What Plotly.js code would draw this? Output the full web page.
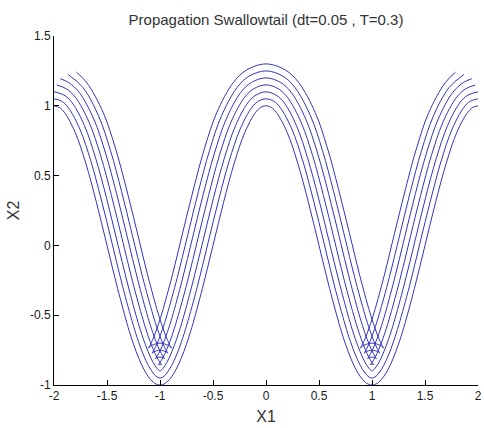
<!DOCTYPE html>
<html>
<head>
<meta charset="utf-8">
<script src="https://cdn.plot.ly/plotly-3.0.1.min.js"></script>
<style>
  html, body { margin: 0; padding: 0; background: #fff; }
  #chart { width: 484px; height: 428px; }
</style>
</head>
<body>
<div id="chart"></div>
<script>
// Propagated fronts of the curve, one pair of arrays per time step (dt = 0.05, up to T = 0.3).
const front000X = [-2, -1.95, -1.9, -1.8, -1.7, -1.6, -1.5, -1.4, -1.3, -1.25, -1.2, -1.15, -1.1, -1.05, -1,
  -0.95, -0.9, -0.85, -0.8, -0.75, -0.7, -0.6, -0.5, -0.4, -0.3, -0.2, -0.1, -0.05, 0,
  0.05, 0.1, 0.2, 0.3, 0.4, 0.5, 0.6, 0.7, 0.75, 0.8, 0.85, 0.9, 0.95, 1,
  1.05, 1.1, 1.15, 1.2, 1.25, 1.3, 1.4, 1.5, 1.6, 1.7, 1.8, 1.9, 1.95, 2];
const front000Y = [1, 0.988, 0.951, 0.809, 0.588, 0.309, 0, -0.309, -0.588, -0.707, -0.809, -0.891, -0.951, -0.988, -1,
  -0.988, -0.951, -0.891, -0.809, -0.707, -0.588, -0.309, 0, 0.309, 0.588, 0.809, 0.951, 0.988, 1,
  0.988, 0.951, 0.809, 0.588, 0.309, 0, -0.309, -0.588, -0.707, -0.809, -0.891, -0.951, -0.988, -1,
  -0.988, -0.951, -0.891, -0.809, -0.707, -0.588, -0.309, 0, 0.309, 0.588, 0.809, 0.951, 0.988, 1];

const front005X = [-2, -1.928, -1.865, -1.756, -1.653, -1.553, -1.452, -1.353, -1.253, -1.204, -1.156, -1.109, -1.065, -1.028, -1,
  -0.972, -0.935, -0.891, -0.844, -0.796, -0.747, -0.647, -0.548, -0.447, -0.347, -0.244, -0.135, -0.072, 0,
  0.072, 0.135, 0.244, 0.347, 0.447, 0.548, 0.647, 0.747, 0.796, 0.844, 0.891, 0.935, 0.972, 1,
  1.028, 1.065, 1.109, 1.156, 1.204, 1.253, 1.353, 1.452, 1.553, 1.653, 1.756, 1.865, 1.928, 2];
const front005Y = [1.05, 1.033, 0.987, 0.833, 0.606, 0.325, 0.015, -0.293, -0.569, -0.687, -0.785, -0.862, -0.915, -0.943, -0.95,
  -0.943, -0.915, -0.862, -0.785, -0.687, -0.569, -0.293, 0.015, 0.325, 0.606, 0.833, 0.987, 1.033, 1.05,
  1.033, 0.987, 0.833, 0.606, 0.325, 0.015, -0.293, -0.569, -0.687, -0.785, -0.862, -0.915, -0.943, -0.95,
  -0.943, -0.915, -0.862, -0.785, -0.687, -0.569, -0.293, 0.015, 0.325, 0.606, 0.833, 0.987, 1.033, 1.05];

const front010X = [-2, -1.906, -1.830, -1.712, -1.607, -1.505, -1.405, -1.305, -1.207, -1.159, -1.112, -1.068, -1.030, -1.006, -1,
  -0.994, -0.970, -0.932, -0.888, -0.841, -0.793, -0.695, -0.595, -0.495, -0.393, -0.288, -0.170, -0.094, 0,
  0.094, 0.170, 0.288, 0.393, 0.495, 0.595, 0.695, 0.793, 0.841, 0.888, 0.932, 0.970, 0.994, 1,
  1.006, 1.030, 1.068, 1.112, 1.159, 1.207, 1.305, 1.405, 1.505, 1.607, 1.712, 1.830, 1.906, 2];
const front010Y = [1.1, 1.077, 1.023, 0.857, 0.624, 0.341, 0.030, -0.277, -0.551, -0.666, -0.761, -0.834, -0.879, -0.898, -0.9,
  -0.898, -0.879, -0.834, -0.761, -0.666, -0.551, -0.277, 0.030, 0.341, 0.624, 0.857, 1.023, 1.077, 1.1,
  1.077, 1.023, 0.857, 0.624, 0.341, 0.030, -0.277, -0.551, -0.666, -0.761, -0.834, -0.879, -0.898, -0.9,
  -0.898, -0.879, -0.834, -0.761, -0.666, -0.551, -0.277, 0.030, 0.341, 0.624, 0.857, 1.023, 1.077, 1.1];

const front015X = [-1.975, -1.884, -1.796, -1.668, -1.560, -1.458, -1.357, -1.258, -1.160, -1.113, -1.068, -1.027, -0.996, -0.984, -1,
  -1.016, -1.004, -0.973, -0.932, -0.887, -0.840, -0.742, -0.643, -0.542, -0.440, -0.332, -0.204, -0.116, 0,
  0.116, 0.204, 0.332, 0.440, 0.542, 0.643, 0.742, 0.840, 0.887, 0.932, 0.973, 1.004, 1.016, 1,
  0.984, 0.996, 1.027, 1.068, 1.113, 1.160, 1.258, 1.357, 1.458, 1.560, 1.668, 1.796, 1.884, 1.975];
const front015Y = [1.149, 1.122, 1.059, 0.880, 0.643, 0.357, 0.046, -0.261, -0.533, -0.646, -0.738, -0.805, -0.843, -0.853, -0.85,
  -0.853, -0.843, -0.805, -0.738, -0.646, -0.533, -0.261, 0.046, 0.357, 0.643, 0.880, 1.059, 1.122, 1.15,
  1.122, 1.059, 0.880, 0.643, 0.357, 0.046, -0.261, -0.533, -0.646, -0.738, -0.805, -0.843, -0.853, -0.85,
  -0.853, -0.843, -0.805, -0.738, -0.646, -0.533, -0.261, 0.046, 0.357, 0.643, 0.880, 1.059, 1.122, 1.149];

const front020X = [-1.941, -1.862, -1.761, -1.624, -1.514, -1.410, -1.309, -1.210, -1.114, -1.068, -1.024, -0.986, -0.961, -0.957, -0.962, -1,
  -1.038, -1.043, -1.039, -1.014, -0.976, -0.932, -0.886, -0.790, -0.691, -0.590, -0.486, -0.376, -0.239, -0.138, 0,
  0.138, 0.239, 0.376, 0.486, 0.590, 0.691, 0.790, 0.886, 0.932, 0.976, 1.014, 1.039, 1.043, 1.038, 1,
  0.962, 0.957, 0.961, 0.986, 1.024, 1.068, 1.114, 1.210, 1.309, 1.410, 1.514, 1.624, 1.761, 1.862, 1.941];
const front020Y = [1.194, 1.167, 1.095, 0.904, 0.661, 0.373, 0.061, -0.246, -0.515, -0.625, -0.714, -0.776, -0.808, -0.811, -0.808, -0.8,
  -0.808, -0.811, -0.808, -0.776, -0.714, -0.625, -0.515, -0.246, 0.061, 0.373, 0.661, 0.904, 1.095, 1.167, 1.2,
  1.167, 1.095, 0.904, 0.661, 0.373, 0.061, -0.246, -0.515, -0.625, -0.714, -0.776, -0.808, -0.811, -0.808, -0.8,
  -0.808, -0.811, -0.808, -0.776, -0.714, -0.625, -0.515, -0.246, 0.061, 0.373, 0.661, 0.904, 1.095, 1.167, 1.194];

const front025X = [-1.868, -1.726, -1.580, -1.467, -1.363, -1.262, -1.163, -1.067, -1.022, -0.980, -0.945, -0.926, -0.940, -1,
  -1.060, -1.074, -1.055, -1.020, -0.978, -0.933, -0.837, -0.738, -0.637, -0.533, -0.420, -0.274, -0.160, 0,
  0.160, 0.274, 0.420, 0.533, 0.637, 0.738, 0.837, 0.933, 0.978, 1.020, 1.055, 1.074, 1.060, 1,
  0.940, 0.926, 0.945, 0.980, 1.022, 1.067, 1.163, 1.262, 1.363, 1.467, 1.580, 1.726, 1.868];
const front025Y = [1.225, 1.130, 0.928, 0.679, 0.388, 0.076, -0.230, -0.496, -0.604, -0.690, -0.747, -0.772, -0.763, -0.75,
  -0.763, -0.772, -0.747, -0.690, -0.604, -0.496, -0.230, 0.076, 0.388, 0.679, 0.928, 1.130, 1.212, 1.25,
  1.212, 1.130, 0.928, 0.679, 0.388, 0.076, -0.230, -0.496, -0.604, -0.690, -0.747, -0.772, -0.763, -0.75,
  -0.763, -0.772, -0.747, -0.690, -0.604, -0.496, -0.230, 0.076, 0.388, 0.679, 0.928, 1.130, 1.225];

const front030X = [-1.788, -1.691, -1.536, -1.421, -1.316, -1.214, -1.116, -1.021, -0.976, -0.936, -0.904, -0.891, -0.918, -1,
  -1.082, -1.109, -1.096, -1.064, -1.024, -0.979, -0.884, -0.786, -0.684, -0.579, -0.464, -0.309, -0.182, 0,
  0.182, 0.309, 0.464, 0.579, 0.684, 0.786, 0.884, 0.979, 1.024, 1.064, 1.096, 1.109, 1.082, 1,
  0.918, 0.891, 0.904, 0.936, 0.976, 1.021, 1.116, 1.214, 1.316, 1.421, 1.536, 1.691, 1.788];
const front030Y = [1.241, 1.166, 0.952, 0.698, 0.404, 0.091, -0.214, -0.478, -0.584, -0.666, -0.719, -0.736, -0.718, -0.7,
  -0.718, -0.736, -0.719, -0.666, -0.584, -0.478, -0.214, 0.091, 0.404, 0.698, 0.952, 1.166, 1.257, 1.3,
  1.257, 1.166, 0.952, 0.698, 0.404, 0.091, -0.214, -0.478, -0.584, -0.666, -0.719, -0.736, -0.718, -0.7,
  -0.718, -0.736, -0.719, -0.666, -0.584, -0.478, -0.214, 0.091, 0.404, 0.698, 0.952, 1.166, 1.241];

const xTickVals = [-2, -1.5, -1, -0.5, 0, 0.5, 1, 1.5, 2];
const xTickText = ['-2', '-1.5', '-1', '-0.5', '0', '0.5', '1', '1.5', '2'];
const yTickVals = [-1, -0.5, 0, 0.5, 1, 1.5];
const yTickText = ['-1', '-0.5', '0', '0.5', '1', '1.5'];

const fronts = [
  [front000X, front000Y], [front005X, front005Y], [front010X, front010Y],
  [front015X, front015Y], [front020X, front020Y], [front025X, front025Y],
  [front030X, front030Y]
];

const traces = fronts.map(([xs, ys]) => ({
  type: 'scatter',
  mode: 'lines',
  x: xs,
  y: ys,
  line: { color: '#3434b8', width: 1, shape: 'spline', smoothing: 1 },
  hoverinfo: 'skip'
}));

const axisCommon = {
  ticks: 'inside',
  ticklen: 5,
  tickwidth: 1,
  tickcolor: '#000',
  showline: true,
  linecolor: '#000',
  linewidth: 1,
  showgrid: false,
  zeroline: false,
  mirror: false,
  tickmode: 'array',
  tickfont: { size: 12, color: '#1a1a1a' }
};

const layout = {
  width: 484,
  height: 428,
  margin: { l: 54, r: 6, t: 36, b: 43, pad: 0 },
  paper_bgcolor: '#ffffff',
  plot_bgcolor: '#ffffff',
  showlegend: false,
  font: { family: 'Liberation Sans, Arial, sans-serif', size: 12, color: '#1a1a1a' },
  title: {
    text: 'Propagation Swallowtail (dt=0.05 , T=0.3)',
    font: { size: 15, color: '#333333' },
    x: 0.5, xref: 'paper', xanchor: 'center',
    y: 1 - 20 / 428, yref: 'container', yanchor: 'middle'
  },
  xaxis: Object.assign({}, axisCommon, {
    range: [-2, 2],
    tickvals: xTickVals,
    ticktext: xTickText,
    title: { text: 'X1', font: { size: 16, color: '#333333' }, standoff: 8 }
  }),
  yaxis: Object.assign({}, axisCommon, {
    range: [-1, 1.5],
    tickvals: yTickVals,
    ticktext: yTickText,
    title: { text: 'X2', font: { size: 16, color: '#333333' }, standoff: 6 }
  })
};

Plotly.newPlot('chart', traces, layout, { staticPlot: true, displayModeBar: false });
</script>
</body>
</html>
